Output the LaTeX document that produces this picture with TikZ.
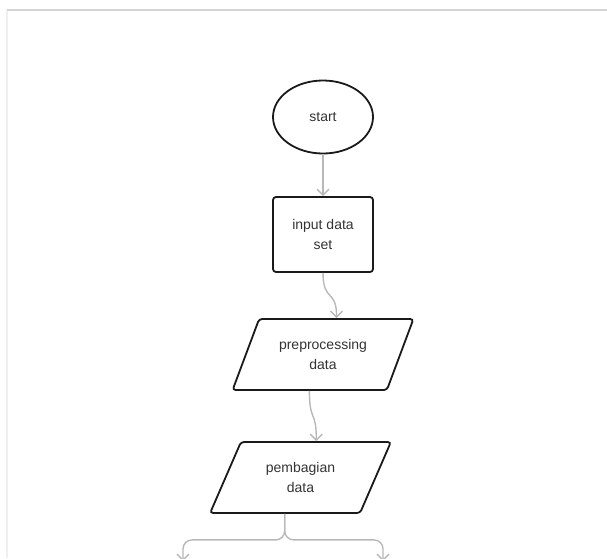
\documentclass[tikz,border=0pt]{standalone}
\usepackage{fontspec}
\setmainfont{Liberation Sans}
\usepackage{tikz}
\usetikzlibrary{shapes.geometric, arrows.meta, positioning}
\definecolor{FLtext}{HTML}{333333}
\definecolor{FLline}{HTML}{1A1A1A}
\definecolor{FLarrow}{HTML}{B8B8B8}
\definecolor{FLframe}{HTML}{D4D4D4}
\definecolor{FLside}{HTML}{EFEFEF}
\tikzstyle{terminal} = [ellipse, minimum width=100pt, minimum height=73pt, text centered, draw=FLline, line width=1.8pt, text=FLtext]
\tikzstyle{datain} = [rectangle, rounded corners=3pt, minimum width=100pt, minimum height=75pt, align=center, draw=FLline, line width=1.8pt, text=FLtext]
\tikzstyle{dataio} = [trapezium, trapezium left angle=62, trapezium right angle=118, trapezium stretches=true, minimum width=181pt, minimum height=71pt, rounded corners=3pt, align=center, draw=FLline, line width=1.8pt, text=FLtext]
\tikzstyle{arrow} = [line width=1.4pt, draw=FLarrow, -{Straight Barb[length=6pt, width=12pt]}]

\begin{document}
\begin{tikzpicture}[x=1pt, y=1pt, node distance=117.5pt, font=\fontsize{14}{20}\selectfont]

\useasboundingbox (0,0) rectangle (607,-558);
\clip (0,0) rectangle (607,-558);

% frame of the page
\draw [FLside, line width=1.2pt] (7,-10) -- (7,-558);
\draw [FLframe, line width=1.4pt] (7,-10) -- (607,-10);

\node (start) [terminal] at (323,-117) {start};
\node (inp) [datain, below of=start] {input data\\set};

\node (prep) [dataio, below of=inp, node distance=120pt] {preprocessing\\data};
\node (split) [dataio, below of=prep, node distance=123pt, xshift=-22.5pt] {pembagian\\data};

% the two outputs run off the page
\coordinate (outl) at (183,-561);
\coordinate (outr) at (383,-561);

\draw [arrow] (start) -- (inp);
\draw [arrow] (inp.south) to[out=-90, in=90, looseness=1.6] (prep.top side);
\draw [arrow] (prep.bottom side) to[out=-90, in=90, looseness=1.6] (split.top side);

\draw [arrow, rounded corners=9pt] (split.bottom side) -- ++(0,-26) -| (outl);
\draw [arrow, rounded corners=9pt] (split.bottom side) -- ++(0,-26) -| (outr);

\end{tikzpicture}
\end{document}
